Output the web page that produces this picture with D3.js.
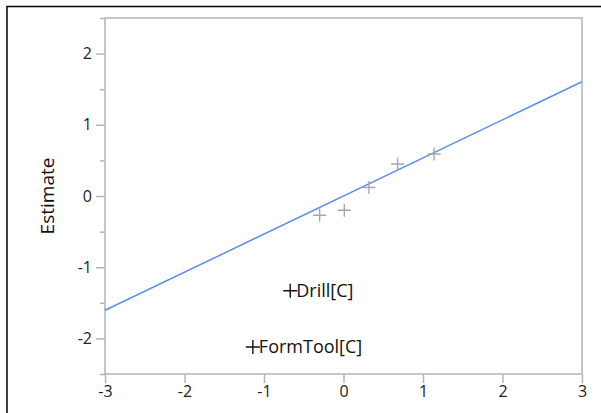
<!DOCTYPE html>
<html>
<head>
<meta charset="utf-8">
<script src="https://cdn.jsdelivr.net/npm/d3@7"></script>
<style>
  body { margin: 0; background: #fff; }
  svg { display: block; }
</style>
</head>
<body>
<svg id="chart"></svg>
<script>
const width = 601;
const height = 413;

// Normal quantiles vs estimates
const quantiles = [-0.30, 0.01, 0.32, 0.68, 1.14];
const estimates = [-0.27, -0.20, 0.12, 0.45, 0.59];
const labeledQuantiles = [-0.67, -1.14];
const labeledEstimates = [-1.33, -2.12];
const labels = ["Drill[C]", "FormTool[C]"];
const lineSlope = 0.535;
const lineIntercept = 0.0;
const xTicks = [-3, -2, -1, 0, 1, 2, 3];
const yTicks = [-2, -1, 0, 1, 2];
const yMinorTicks = [-2.5, -1.5, -0.5, 0.5, 1.5, 2.5];

const frame = {left: 105, right: 582, top: 18, bottom: 374};
const font = "'Segoe UI', 'Open Sans', 'Noto Sans', sans-serif";

const svg = d3.select("#chart")
  .attr("width", width)
  .attr("height", height)
  .attr("viewBox", [0, 0, width, height]);

// outer black border (top and left)
svg.append("path")
  .attr("d", `M7,${height}V6.5H${width}`)
  .attr("fill", "none")
  .attr("stroke", "#000")
  .attr("stroke-width", 1.5);

const x = d3.scaleLinear([-3, 3], [frame.left, frame.right]);
const y = d3.scaleLinear([-2.5, 2.5], [frame.bottom, frame.top]);

// plot frame
svg.append("rect")
  .attr("x", frame.left)
  .attr("y", frame.top)
  .attr("width", frame.right - frame.left)
  .attr("height", frame.bottom - frame.top)
  .attr("fill", "none")
  .attr("stroke", "#b4b4b4")
  .attr("stroke-width", 1.5);

// y axis
const yAxis = svg.append("g")
  .attr("transform", `translate(${frame.left},0)`)
  .call(d3.axisLeft(y).tickValues(yTicks).tickSize(9).tickPadding(4).tickFormat(d => String(d)));
svg.append("g")
  .attr("transform", `translate(${frame.left},0)`)
  .call(d3.axisLeft(y).tickValues(yMinorTicks).tickSize(5).tickFormat(""))
  .call(g => g.select(".domain").remove())
  .selectAll("line").attr("stroke", "#b4b4b4").attr("stroke-width", 1.5);

// x axis
const xAxis = svg.append("g")
  .attr("transform", `translate(0,${frame.bottom})`)
  .call(d3.axisBottom(x).tickValues(xTicks).tickSize(9).tickPadding(3).tickFormat(d => String(d)));

[yAxis, xAxis].forEach(g => {
  g.select(".domain").remove();
  g.selectAll("line").attr("stroke", "#b4b4b4").attr("stroke-width", 1.5);
  g.selectAll("text")
    .attr("font-family", font)
    .attr("font-size", 16)
    .attr("fill", "#222");
});

// y label
svg.append("text")
  .attr("transform", `translate(54,${(frame.top + frame.bottom) / 2}) rotate(-90)`)
  .attr("text-anchor", "middle")
  .attr("font-family", font)
  .attr("font-size", 19)
  .attr("fill", "#111")
  .text("Estimate");

// fitted line
svg.append("line")
  .attr("x1", x(-3)).attr("y1", y(lineIntercept + lineSlope * -3))
  .attr("x2", x(3)).attr("y2", y(lineIntercept + lineSlope * 3))
  .attr("stroke", "#5b8cf0")
  .attr("stroke-width", 1.5);

function cross(sel, size, color, width) {
  sel.append("path")
    .attr("d", `M${-size},0H${size}M0,${-size}V${size}`)
    .attr("stroke", color)
    .attr("stroke-width", width)
    .attr("fill", "none");
}

// unlabeled points
const pts = svg.append("g");
quantiles.forEach((q, i) => {
  const g = pts.append("g").attr("transform", `translate(${x(q)},${y(estimates[i])})`);
  cross(g, 6.5, "#a6a6a6", 1.4);
});

// labeled points
labels.forEach((name, i) => {
  const g = svg.append("g")
    .attr("transform", `translate(${x(labeledQuantiles[i])},${y(labeledEstimates[i])})`);
  cross(g, 7, "#111", 1.4);
  g.append("text")
    .attr("x", 6)
    .attr("dy", "0.36em")
    .attr("font-family", font)
    .attr("font-size", 18)
    .attr("fill", "#111")
    .text(name);
});
</script>
</body>
</html>
